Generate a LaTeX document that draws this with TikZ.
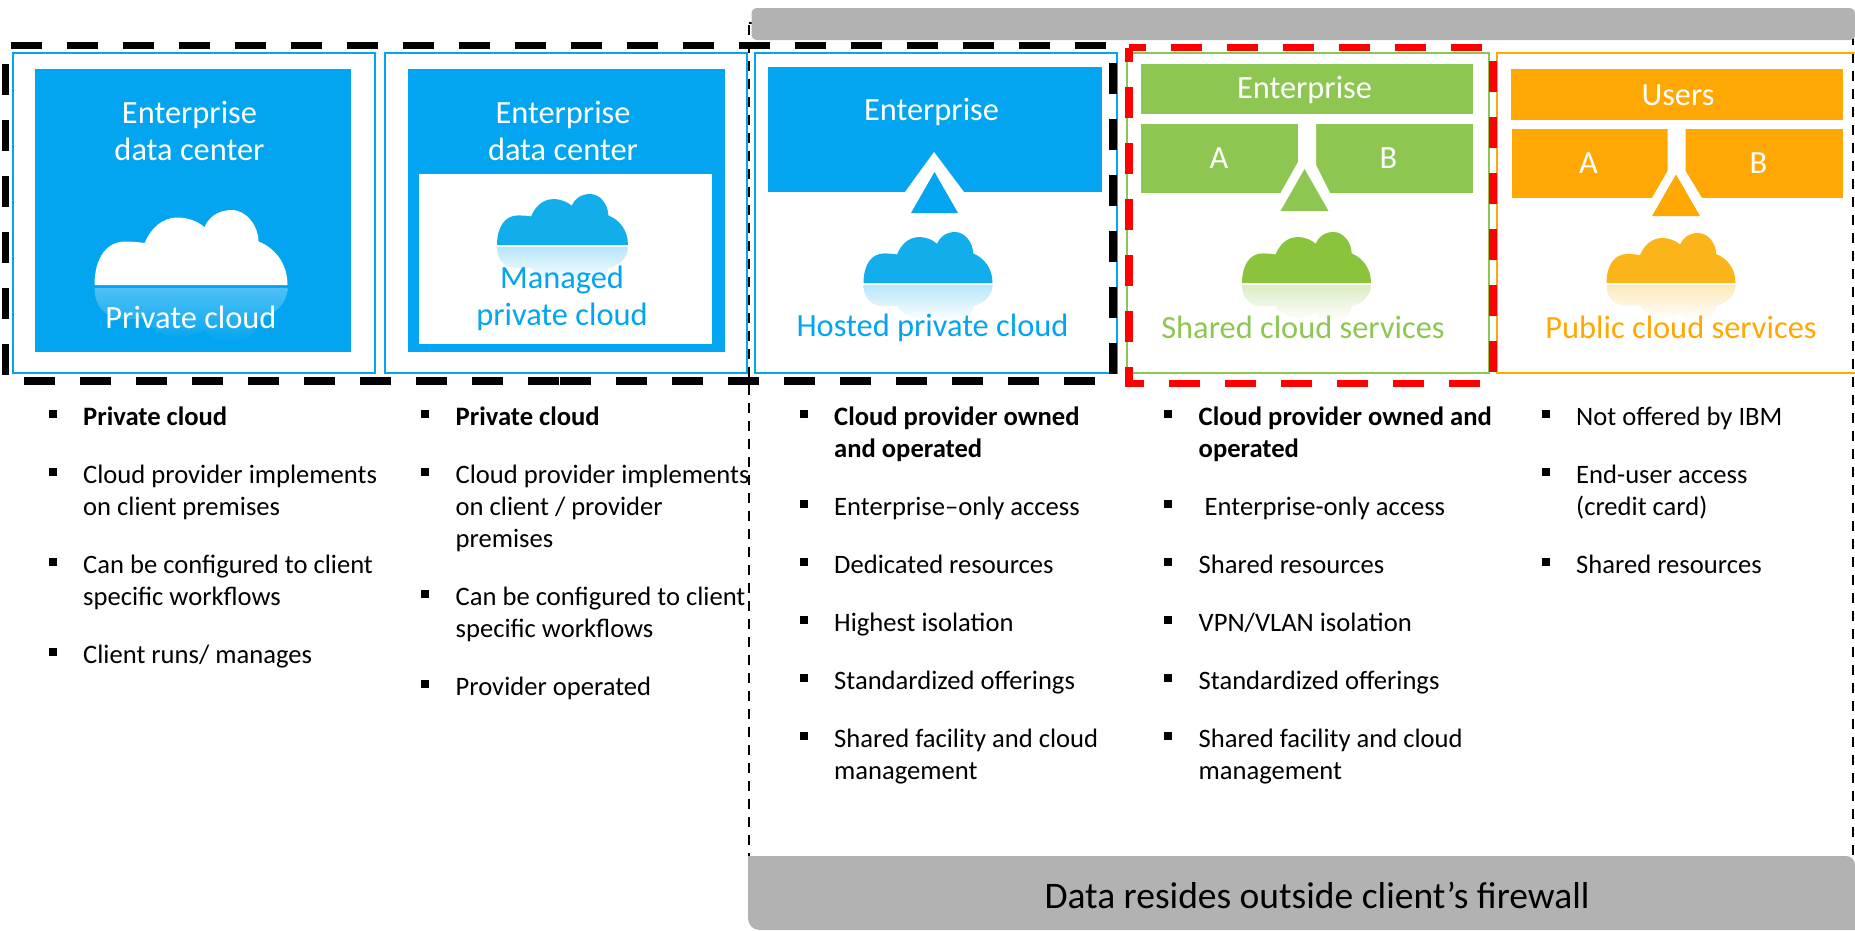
\documentclass[tikz,border=0pt]{standalone}
\usepackage{fontspec}
\setmainfont{Carlito}
\definecolor{ibmblue}{HTML}{03A5F0}
\definecolor{cloudblue}{HTML}{12AEEC}
\definecolor{ibmgreen}{HTML}{8DC651}
\definecolor{cloudgreen}{HTML}{8AC33C}
\definecolor{ibmorange}{HTML}{FFA803}
\definecolor{cloudorange}{HTML}{FBB51A}
\definecolor{bargray}{HTML}{B2B2B2}
\tikzset{
  title/.style={font=\fontsize{32.4}{36.5}\selectfont,align=center,inner sep=0pt},
  itemtext/.style={font=\fontsize{26.6}{32}\selectfont,align=left,anchor=north west,inner sep=0pt},
  itembullet/.style={fill=black,minimum size=8pt,inner sep=0pt},
  bigdash/.style={line width=7.5pt,dash pattern=on 31pt off 25pt}
}
% x y width height colour reflection background
\newcommand{\skycloud}[7]{
  \begin{scope}[shift={(#1,#2)},xscale=#3/100,yscale=#4/100]
    \fill[#5] (0,100) .. controls (0,65) and (6,42) .. (16,42) .. controls (20,42) and (23,43) .. (26,44)
      .. controls (29,25) and (35,10) .. (43,10) .. controls (49,10) and (54,16) .. (57,23)
      .. controls (59,10) and (64,0) .. (71,0) .. controls (79,0) and (85,22) .. (85,42)
      .. controls (93,50) and (100,70) .. (100,100) -- cycle;
    \begin{scope}[shift={(0,176)},yscale=-.72]
      \shade[top color=#7,bottom color=#6] (0,100) .. controls (0,65) and (6,42) .. (16,42) .. controls (20,42) and (23,43) .. (26,44)
        .. controls (29,25) and (35,10) .. (43,10) .. controls (49,10) and (54,16) .. (57,23)
        .. controls (59,10) and (64,0) .. (71,0) .. controls (79,0) and (85,22) .. (85,42)
        .. controls (93,50) and (100,70) .. (100,100) -- cycle;
    \end{scope}
  \end{scope}
}
% name x y text
\newcommand{\listitem}[4]{
  \node[itemtext] (#1) at (#2,#3) {#4};
  \node[itembullet] (#1b) at (#2-30.5,#3+7) {};
}
\begin{document}
\begin{tikzpicture}[x=1pt,y=-1pt]
  \useasboundingbox (0,0) rectangle (1855,930);

  % outside firewall frame and its two bars
  \draw[line width=2pt,dash pattern=on 10pt off 8pt] (749,23) -- (1853,23) -- (1853,860) -- (749,860) -- cycle;
  \fill[bargray,rounded corners=5pt] (751.5,8) rectangle (1855,40);
  \fill[bargray] (748,856) -- (1846,856) .. controls (1851,856) and (1855,860) .. (1855,865) -- (1855,930)
    -- (760,930) .. controls (753,930) and (748,925) .. (748,918) -- cycle;
  \node[inner sep=0pt,font=\fontsize{37.5}{45}\selectfont] (firewall) at (1317,895) {Data resides outside client’s firewall};

  % private cloud
  \draw[ibmblue,line width=2pt] (12.5,53) rectangle (375,373);
  \fill[ibmblue] (34.5,69) rectangle (351,352);
  \skycloud{94.5}{210}{193}{75}{white}{ibmblue}{white!30!ibmblue}
  \node[title,text=white] (private) at (189.5,131) {Enterprise\\data center};
  \node[title,text=white] (privatename) at (191,317) {Private cloud};

  % managed private cloud
  \draw[ibmblue,line width=2pt] (385,53) rectangle (747,373);
  \fill[ibmblue] (408,69) rectangle (725,352);
  \fill[white] (418.5,174) rectangle (712,344);
  \skycloud{497}{194}{131}{51}{cloudblue}{white}{cloudblue!30}
  \node[title,text=white] (managed) at (563,131) {Enterprise\\data center};
  \node[title,text=ibmblue] (managedname) at (562,298.5) {Managed\\private cloud};

  % hosted private cloud
  \draw[ibmblue,line width=2pt] (754.5,53) rectangle (1117,373);
  \fill[ibmblue] (767.5,67) rectangle (1102,192);
  \fill[white] (905,192) -- (934,152) -- (964,192) -- cycle;
  \fill[ibmblue] (934.5,172) -- (958,213) -- (911,213) -- cycle;
  \skycloud{863.5}{232}{129}{51}{cloudblue}{white}{cloudblue!30}
  \node[title,text=white] (hosted) at (931.5,111.5) {Enterprise};
  \node[title,text=ibmblue] (hostedname) at (932.5,327.5) {Hosted private cloud};

  % shared cloud services
  \draw[ibmgreen,line width=2pt] (1127,53) rectangle (1489,373);
  \fill[ibmgreen] (1141,64) rectangle (1473,114);
  \fill[ibmgreen] (1141,124) rectangle (1473,193);
  \fill[white] (1298,124) -- (1298,162) -- (1280.5,193) -- (1330,193) -- (1316,165) -- (1316,124) -- cycle;
  \fill[ibmgreen] (1304.5,169) -- (1328.5,211) -- (1280.5,211) -- cycle;
  \skycloud{1242}{232}{129}{51}{cloudgreen}{white}{cloudgreen!30}
  \node[title,text=white] (shared) at (1304.5,90) {Enterprise};
  \node[title,text=white] (shareda) at (1219,158.5) {A};
  \node[title,text=white] (sharedb) at (1388.5,158.5) {B};
  \node[title,text=ibmgreen] (sharedname) at (1303,327.5) {Shared cloud services};

  % public cloud services
  \draw[ibmorange,line width=2pt] (1855,53) -- (1496.5,53) -- (1496.5,373) -- (1855,373);
  \fill[ibmorange] (1511,69) rectangle (1843,120);
  \fill[ibmorange] (1511.5,129) rectangle (1843,198);
  \fill[white] (1667.5,129) -- (1667.5,171) -- (1652,198) -- (1702,198) -- (1685.5,171) -- (1685.5,129) -- cycle;
  \fill[ibmorange] (1676,174.5) -- (1700,216) -- (1652,216) -- cycle;
  \skycloud{1606.5}{233}{129}{50}{cloudorange}{white}{cloudorange!30}
  \node[title,text=white] (public) at (1678,95.5) {Users};
  \node[title,text=white] (publica) at (1588.5,163.5) {A};
  \node[title,text=white] (publicb) at (1758.5,163.5) {B};
  \node[title,text=ibmorange] (publicname) at (1681,327.5) {Public cloud services};

  % thick dashed groups
  \draw[bigdash] (10.5,45.5) -- (1113,45.5) -- (1113,381) -- (560,381);
  \draw[bigdash] (559,381) -- (5.5,381) -- (5.5,45.5);
  \draw[bigdash,red,dash phase=14.5pt] (1129,47.5) -- (1493,47.5) -- (1493,383.5) -- (1129,383.5) -- cycle;

  % private cloud list
  \listitem{pa}{83}{407}{\textbf{Private cloud}}
  \listitem{pb}{83}{465}{Cloud provider implements\\on client premises}
  \listitem{pc}{83}{555}{Can be configured to client\\specific workflows}
  \listitem{pd}{83}{645}{Client runs/ manages}

  % managed list
  \listitem{ma}{455.5}{407}{\textbf{Private cloud}}
  \listitem{mb}{455.5}{465}{Cloud provider implements\\on client / provider\\premises}
  \listitem{mc}{455.5}{587}{Can be configured to client\\specific workflows}
  \listitem{md}{455.5}{677}{Provider operated}

  % hosted list
  \listitem{ha}{834}{407}{\textbf{Cloud provider owned}\\\textbf{and operated}}
  \listitem{hb}{834}{497}{Enterprise–only access}
  \listitem{hc}{834}{555}{Dedicated resources}
  \listitem{hd}{834}{613}{Highest isolation}
  \listitem{he}{834}{671}{Standardized offerings}
  \listitem{hf}{834}{729}{Shared facility and cloud\\management}

  % shared list
  \listitem{sa}{1198.5}{407}{\textbf{Cloud provider owned and}\\\textbf{operated}}
  \listitem{sb}{1198.5}{497}{\ Enterprise-only access}
  \listitem{sc}{1198.5}{555}{Shared resources}
  \listitem{sd}{1198.5}{613}{VPN/VLAN isolation}
  \listitem{se}{1198.5}{671}{Standardized offerings}
  \listitem{sf}{1198.5}{729}{Shared facility and cloud\\management}

  % public list
  \listitem{ua}{1576}{407}{Not offered by IBM}
  \listitem{ub}{1576}{465}{End-user access\\(credit card)}
  \listitem{uc}{1576}{555}{Shared resources}
\end{tikzpicture}
\end{document}
